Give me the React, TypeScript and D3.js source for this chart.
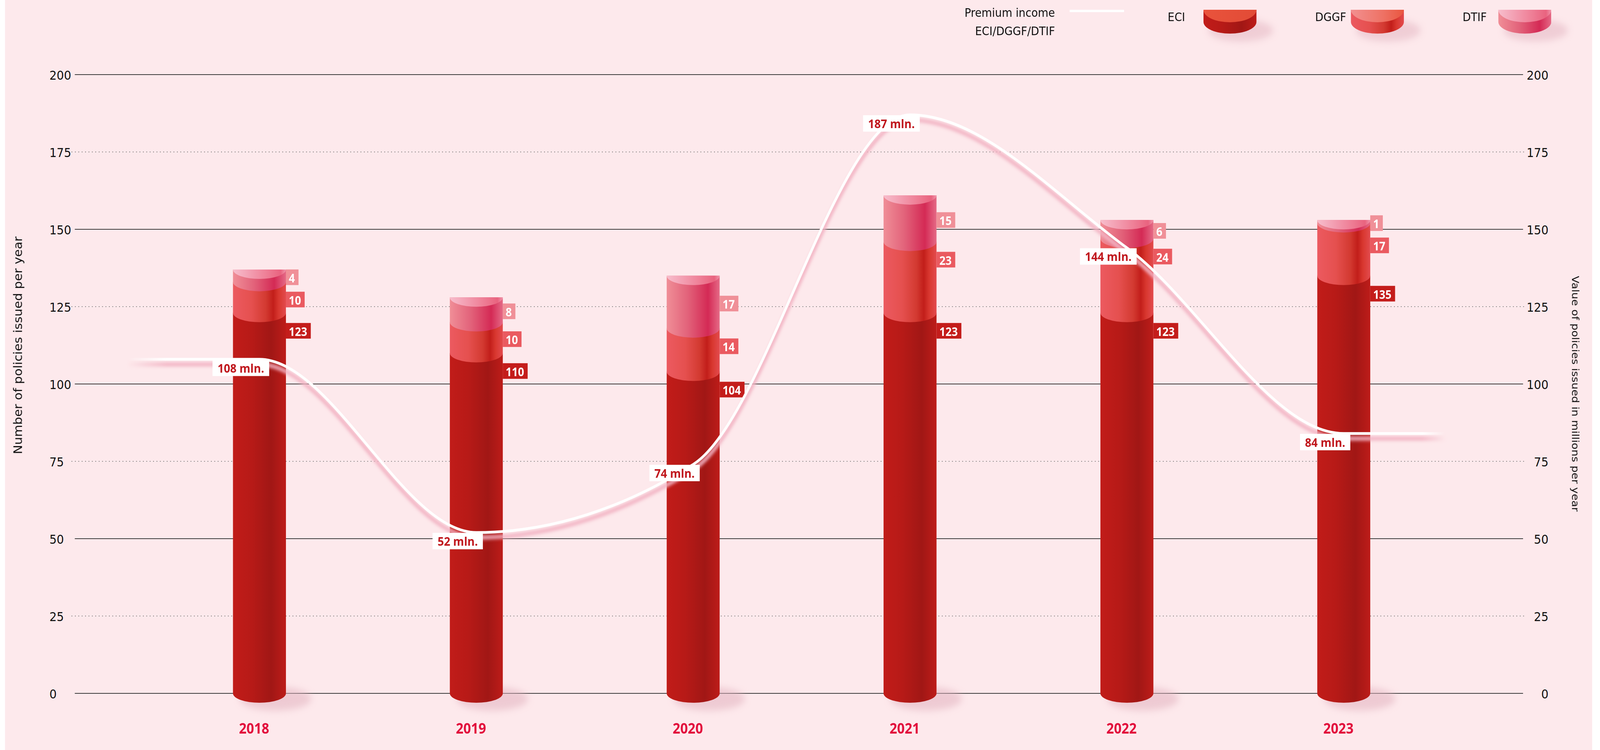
import { useEffect, useRef } from "react";
import * as d3 from "d3";

const years = ["2018", "2019", "2020", "2021", "2022", "2023"];
const eci = [123, 110, 104, 123, 123, 135];
const dggf = [10, 10, 14, 23, 24, 17];
const dtif = [4, 8, 17, 15, 6, 1];
const premium = [108, 52, 74, 187, 144, 84];
const yTicks = [0, 25, 50, 75, 100, 125, 150, 175, 200];

const seriesNames = ["ECI", "DGGF", "DTIF"];
const seriesValues = [eci, dggf, dtif];
const labelFill = ["#c41d1b", "#ea5a60", "#f09098"];

const W = 4471;
const H = 1920;
const FONT = "'DejaVu Sans', sans-serif";
const BOLD = "'Open Sans', 'DejaVu Sans', sans-serif";

export default function App() {
  const ref = useRef<SVGSVGElement>(null);

  useEffect(() => {
    if (!ref.current) return;
    const svg = d3.select(ref.current);
    svg.selectAll("*").remove();

    const y = d3.scaleLinear().domain([0, 200]).range([1775, 191]);
    const x = d3.scalePoint<string>().domain(years).range([216, 4264]).padding(0.84);
    const barW = 148;
    const rx = barW / 2;
    const ry = 24;

    const defs = svg.append("defs");
    const grad = (id: string, stops: [number, string, number?][], attrs: any = {}) => {
      const g = defs.append("linearGradient").attr("id", id)
        .attr("x1", 0).attr("x2", 1).attr("y1", 0).attr("y2", 0);
      Object.entries(attrs).forEach(([k, v]) => g.attr(k, v as any));
      stops.forEach(([o, c, op]) =>
        g.append("stop").attr("offset", o).attr("stop-color", c).attr("stop-opacity", op ?? 1));
    };
    // side gradients
    grad("side0", [[0, "#c11c19"], [0.35, "#b71a17"], [0.72, "#a11715"], [1, "#bd1c19"]]);
    grad("side1", [[0, "#ec5a60"], [0.35, "#e5504f"], [0.62, "#d33a31"], [0.76, "#c21e1a"], [0.86, "#d8372f"], [1, "#e34b4e"]]);
    grad("side2", [[0, "#f08e97"], [0.4, "#e2627a"], [0.78, "#d42a55"], [1, "#e56a86"]]);
    // top faces
    grad("top0", [[0, "#e9533c"], [1, "#e24b36"]]);
    grad("top1", [[0, "#f29090"], [0.6, "#ee7265"], [1, "#e9563f"]]);
    grad("top2", [[0, "#f7bdcc"], [0.6, "#ef8299"], [0.9, "#e9637f"], [1, "#f096ab"]]);

    const blur = defs.append("filter").attr("id", "blur")
      .attr("x", "-50%").attr("y", "-50%").attr("width", "200%").attr("height", "200%");
    blur.append("feGaussianBlur").attr("stdDeviation", 9);
    const blurS = defs.append("filter").attr("id", "blurS")
      .attr("x", "-5%").attr("y", "-50%").attr("width", "110%").attr("height", "200%");
    blurS.append("feGaussianBlur").attr("stdDeviation", 4);

    // background
    svg.append("rect").attr("x", 14).attr("y", 0).attr("width", 4435).attr("height", H).attr("fill", "#fde9ec");

    // grid
    const grid = svg.append("g");
    yTicks.forEach((t) => {
      const solid = t % 50 === 0;
      grid.append("line")
        .attr("x1", solid ? 209 : 200).attr("x2", solid ? 4256 : 4266)
        .attr("y1", y(t)).attr("y2", y(t))
        .attr("stroke", solid ? "#3c3c3c" : "#6a6a6a")
        .attr("stroke-width", 2)
        .attr("stroke-dasharray", solid ? null : "2 7.5");
      grid.append("text").attr("x", 138).attr("y", y(t) + 2)
        .attr("dominant-baseline", "central").attr("font-family", FONT).attr("font-size", 32)
        .attr("fill", "#111").text(t);
      grid.append("text").attr("x", 4327).attr("y", y(t) + 2).attr("text-anchor", "end")
        .attr("dominant-baseline", "central").attr("font-family", FONT).attr("font-size", 32)
        .attr("fill", "#111").text(t);
    });

    // axis titles
    svg.append("text").attr("transform", `translate(51,884) rotate(-90)`)
      .attr("text-anchor", "middle").attr("dominant-baseline", "central")
      .attr("font-family", FONT).attr("font-size", 32).attr("fill", "#111")
      .text("Number of policies issued per year");
    svg.append("text").attr("transform", `translate(4403,1008) rotate(90)`)
      .attr("text-anchor", "middle").attr("dominant-baseline", "central")
      .attr("font-family", FONT).attr("font-size", 28).attr("fill", "#111")
      .text("Value of policies issued in millions per year");

    const segPath = (x0: number, top: number, base: number) =>
      `M${x0},${top}L${x0},${base}A${rx},${ry} 0 0 0 ${x0 + barW},${base}L${x0 + barW},${top}Z`;
    const capPath = (x0: number, top: number) =>
      `M${x0},${top}A${rx},${ry} 0 0 0 ${x0 + barW},${top}Z`;

    // bars
    const bars = svg.append("g");
    const barLabels = svg.append("g");
    years.forEach((yr, i) => {
      const cx = x(yr)!;
      const x0 = cx - rx;
      bars.append("ellipse").attr("cx", cx + 45).attr("cy", y(0) + 14)
        .attr("rx", 100).attr("ry", 30).attr("fill", "#e2b2bf").attr("opacity", 0.55)
        .attr("filter", "url(#blur)");
      let acc = 0;
      const segs: { top: number; base: number; v: number; k: number }[] = [];
      seriesValues.forEach((vals, k) => {
        const base = y(acc);
        acc += vals[i];
        const top = y(acc);
        segs.push({ top, base, v: vals[i], k });
        bars.append("path").attr("d", segPath(x0, top, base)).attr("fill", `url(#side${k})`);
      });
      bars.append("path").attr("d", capPath(x0, y(acc))).attr("fill", "url(#top2)");

      // label positions, top segment first
      const order = segs.slice().reverse();
      const centers = order.map((s, j) => {
        const mid = (s.top + s.base) / 2 + 4;
        return j === 0 ? mid : Math.min(mid, s.top + 46);
      });
      for (let j = 1; j < centers.length; j++) {
        if (centers[j] - centers[j - 1] < 57) centers[j] = centers[j - 1] + 57;
      }
      order.forEach((s, j) => {
        const g = barLabels.append("g");
        const t = g.append("text").attr("x", x0 + barW + 8).attr("y", centers[j] + 1)
          .attr("dominant-baseline", "central").attr("font-family", BOLD)
          .attr("font-weight", 700).attr("font-size", 30).attr("fill", "#fff").text(s.v);
        const w = (t.node() as SVGTextElement).getComputedTextLength();
        g.insert("rect", "text").attr("x", x0 + barW).attr("y", centers[j] - 20)
          .attr("width", w + 18).attr("height", 40).attr("fill", labelFill[s.k]);
      });
    });

    // premium line
    const step = x.step();
    const pts: [number, number][] = [
      [x(years[0])! - step * 0.61, premium[0]],
      ...years.map((yr, i) => [x(yr)!, premium[i]] as [number, number]),
      [x(years[years.length - 1])! + step * 0.47, premium[premium.length - 1]],
    ];
    const x1 = pts[0][0];
    const x2 = pts[pts.length - 1][0];
    const fadeStops = (c: string): [number, string, number][] => [
      [0, c, 0], [0.03, c, 1], [0.982, c, 1], [1, c, 0],
    ];
    grad("lineW", fadeStops("#ffffff"), { gradientUnits: "userSpaceOnUse", x1, x2, y1: 0, y2: 0 });
    grad("lineP", fadeStops("#f2b3c3"), { gradientUnits: "userSpaceOnUse", x1, x2, y1: 0, y2: 0 });
    const line = d3.line<[number, number]>().x((d) => d[0]).y((d) => y(d[1])).curve(d3.curveMonotoneX);
    svg.append("path").attr("d", line(pts)).attr("fill", "none")
      .attr("stroke", "url(#lineP)").attr("stroke-width", 10)
      .attr("transform", "translate(0,13)").attr("filter", "url(#blurS)");
    svg.append("path").attr("d", line(pts)).attr("fill", "none")
      .attr("stroke", "url(#lineW)").attr("stroke-width", 7);

    // premium labels
    years.forEach((yr, i) => {
      const g = svg.append("g");
      const cx = x(yr)! - 52;
      const top = y(premium[i]) + 1;
      const t = g.append("text").attr("x", cx).attr("y", top + 21).attr("text-anchor", "middle")
        .attr("dominant-baseline", "central").attr("font-family", BOLD).attr("font-weight", 700)
        .attr("font-size", 31).attr("fill", "#c0171d").text(`${premium[i]} mln.`);
      const w = (t.node() as SVGTextElement).getComputedTextLength();
      g.insert("rect", "text").attr("x", cx - w / 2 - 14).attr("y", top)
        .attr("width", w + 28).attr("height", 42).attr("fill", "#fff");
    });

    // year labels
    years.forEach((yr) => {
      svg.append("text").attr("x", x(yr)! - 15).attr("y", 1878).attr("text-anchor", "middle")
        .attr("font-family", BOLD).attr("font-weight", 700).attr("font-size", 37)
        .attr("fill", "#e20e3c").text(yr);
    });

    // legend
    const lg = svg.append("g");
    lg.append("text").attr("x", 2948).attr("y", 33).attr("text-anchor", "end")
      .attr("dominant-baseline", "central").attr("font-family", FONT).attr("font-size", 30)
      .attr("fill", "#111").text("Premium income");
    lg.append("text").attr("x", 2948).attr("y", 80).attr("text-anchor", "end")
      .attr("dominant-baseline", "central").attr("font-family", FONT).attr("font-size", 30)
      .attr("fill", "#111").text("ECI/DGGF/DTIF");
    lg.append("line").attr("x1", 2989).attr("x2", 3141).attr("y1", 41).attr("y2", 41)
      .attr("stroke", "#f2b3c3").attr("stroke-width", 8).attr("filter", "url(#blurS)");
    lg.append("line").attr("x1", 2989).attr("x2", 3141).attr("y1", 28).attr("y2", 28)
      .attr("stroke", "#fff").attr("stroke-width", 6);
    seriesNames.forEach((name, k) => {
      const sx = 3363 + k * 412;
      lg.append("text").attr("x", sx - 100).attr("y", 44).attr("dominant-baseline", "central")
        .attr("font-family", FONT).attr("font-size", 30).attr("fill", "#111").text(name);
      lg.append("ellipse").attr("cx", sx + rx + 30).attr("cy", 78).attr("rx", 90).attr("ry", 28)
        .attr("fill", "#e2b2bf").attr("opacity", 0.5).attr("filter", "url(#blur)");
      lg.append("path").attr("d", `M${sx},25L${sx},56A${rx},30 0 0 0 ${sx + barW},56L${sx + barW},25Z`)
        .attr("fill", `url(#side${k})`);
      lg.append("path").attr("d", `M${sx},25A${rx},32 0 0 0 ${sx + barW},25Z`)
        .attr("fill", `url(#top${k})`);
    });
  }, []);

  // the svg fills the whole window so the full 4471x1920 layout stays in view
  return (
    <div style={{ position: "fixed", left: 0, top: 0, width: "100vw", height: "100vh", overflow: "hidden" }}>
      <svg ref={ref} viewBox={`0 0 ${W} ${H}`} preserveAspectRatio="none"
        style={{ display: "block", width: "100%", height: "100%" }} />
    </div>
  );
}
